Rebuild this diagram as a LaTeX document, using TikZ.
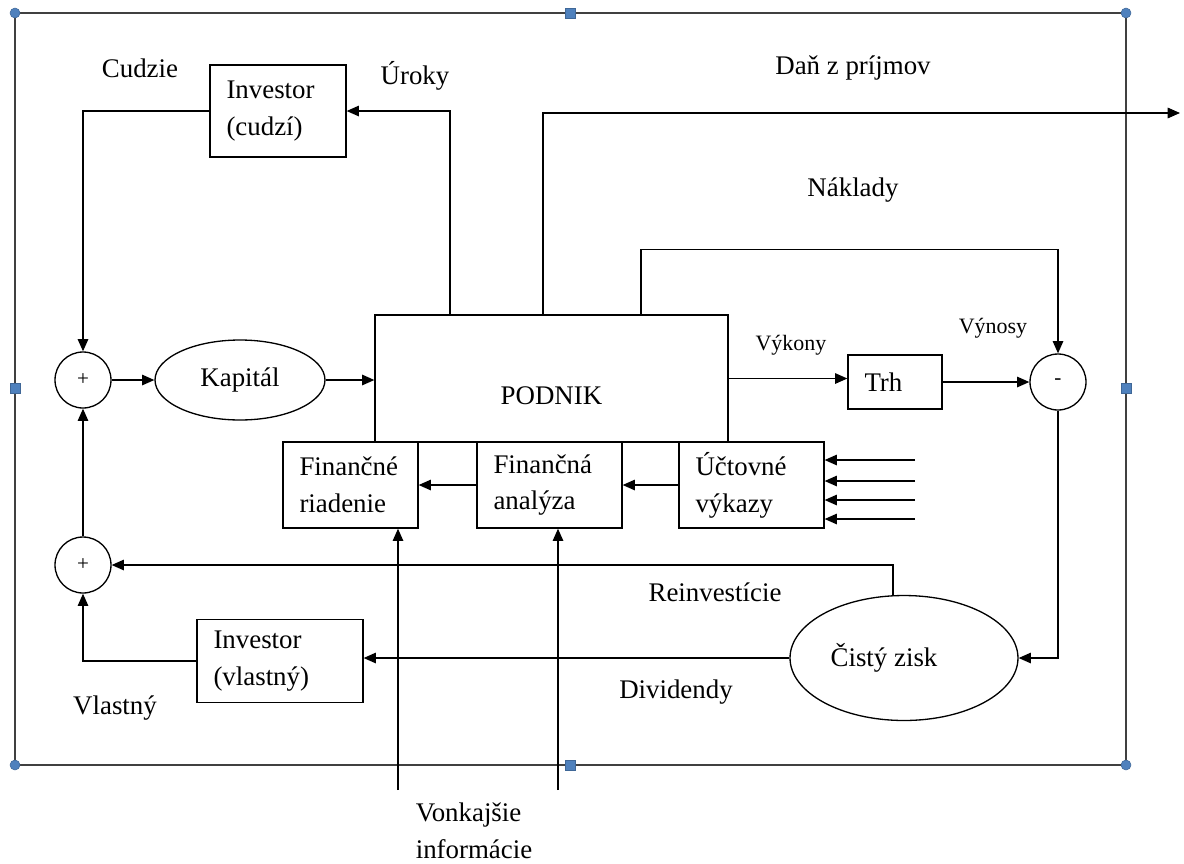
\documentclass[tikz,border=0pt]{standalone}
\usepackage{fontspec}
\setmainfont{Liberation Serif}
\usetikzlibrary{arrows.meta, shapes.geometric, positioning}
\definecolor{handleblue}{RGB}{79,129,189}

\begin{document}
\begin{tikzpicture}[
    x=0.02cm, y=-0.02cm,
    font=\fontsize{15.3}{21}\selectfont,
    line width=0.75pt,
    arr/.style={-{Triangle[length=7pt,width=6pt]}},
    box/.style 2 args={draw, rectangle, text width=#1, minimum height=#2, inner xsep=0.33cm, align=left},
    sum/.style={draw, circle, minimum size=1.12cm, inner sep=0pt, font=\fontsize{12}{14}\selectfont},
    oval/.style 2 args={draw, ellipse, minimum width=#1, minimum height=#2, inner sep=0pt},
    lbl/.style={inner sep=0pt},
    small/.style={inner sep=0pt, font=\fontsize{12.5}{15}\selectfont},
    handle/.style={fill=handleblue, draw=handleblue!80!black, line width=0.3pt}
]
    \useasboundingbox (0,0) rectangle (1184,863);

    % Frame of the canvas
    \draw[black!75, line width=0.8pt] (15,13) rectangle (1126,765);

    % Enterprise and its parts
    \node[draw, rectangle, minimum width=7.06cm, minimum height=2.54cm,
          label={[yshift=-0.34cm]center:PODNIK}] (podnik) at (551.5,378.5) {};
    \node[box={2.04cm}{1.72cm}, fill=white] (riad) at (350.5,485) {Finančné\\riadenie};
    \node[box={2.24cm}{1.72cm}, fill=white] (anal) at (549.5,485) {Finančná\\analýza};
    \node[box={2.24cm}{1.72cm}, fill=white] (vyk) at (751.5,485) {Účtovné\\výkazy};

    % Capital side
    \node[sum] (sum1) at (83,380) {+};
    \node[sum] (sum2) at (83,565) {+};
    \node[oval={3.4cm}{1.6cm}] (kap) at (240,380) {Kapitál};
    \node[box={2.06cm}{1.84cm}] (invc) at (278,111) {Investor\\(cudzí)};
    \node[box={2.66cm}{1.66cm}] (invv) at (280,661) {Investor\\(vlastný)};

    % Market side
    \node[box={1.22cm}{1.08cm}] (trh) at (895,382) {Trh};
    \node[sum] (minus) at (1058,382) {-};
    \node[oval={4.56cm}{2.5cm}, label={[xshift=-0.4cm]center:Čistý zisk}] (zisk) at (904,658) {};

    % Labels
    \node[lbl] (cudzie) at (140,68) {Cudzie};
    \node[lbl] (uroky) at (415,76) {Úroky};
    \node[lbl] (dan) at (853,68) {Daň z príjmov};
    \node[lbl] (naklady) at (853,190) {Náklady};
    \node[small] (vykony) at (791,345) {Výkony};
    \node[small] (vynosy) at (993,328) {Výnosy};
    \node[lbl] (reinv) at (715,592) {Reinvestície};
    \node[lbl] (divid) at (676,692) {Dividendy};
    \node[lbl] (vlastny) at (115,708) {Vlastný};
    \node[lbl, align=left] (vonk) at (474,831) {Vonkajšie\\informácie};

    % Free ends
    \coordinate (taxout) at (1180,113);
    \coordinate (ext1) at (398,790);
    \coordinate (ext2) at (558,790);

    % Connectors
    \draw[arr] ([xshift=-2.03cm]podnik.north) |- (invc.east);
    \draw[arr] (invc.west) -| (sum1.north);
    \draw[arr] (sum1) -- (kap);
    \draw[arr] (kap.east) -- (kap.east -| podnik.west);
    \draw[arr] ([xshift=-0.17cm]podnik.north) |- (taxout);
    \draw[arr] ([xshift=1.79cm]podnik.north) -- ++(0,-65) -| (minus.north);
    \draw[arr] (podnik.east) -- (podnik.east -| trh.west);
    \draw[arr] (trh.east) -- (minus.west);
    \draw[arr] (minus.south) |- (zisk.east);
    \draw[arr] ([xshift=-0.22cm]zisk.north) |- (sum2.east);
    \draw[arr] (zisk.west) -- (zisk.west -| invv.east);
    \draw[arr] (invv.west) -| (sum2.south);
    \draw[arr] (sum2) -- (sum1);
    \draw[arr] (anal) -- (riad);
    \draw[arr] (vyk) -- (anal);
    \foreach \y [count=\i] in {460,481,500,519} {
        \coordinate (in\i) at (915,\y);
        \draw[arr] (in\i) -- (in\i -| vyk.east);
    }
    \draw[arr] (ext1) -- (ext1 |- riad.south);
    \draw[arr] (ext2) -- (ext2 |- anal.south);

    % Selection handles
    \foreach \p in {(15,13),(1126,13),(15,765),(1126,765)}
        \fill[handle] \p circle (5);
    \foreach \p in {(570,13),(570,765),(15,388),(1126,388)}
        \filldraw[handle] \p ++(-5,-5) rectangle ++(10,10);
\end{tikzpicture}
\end{document}
